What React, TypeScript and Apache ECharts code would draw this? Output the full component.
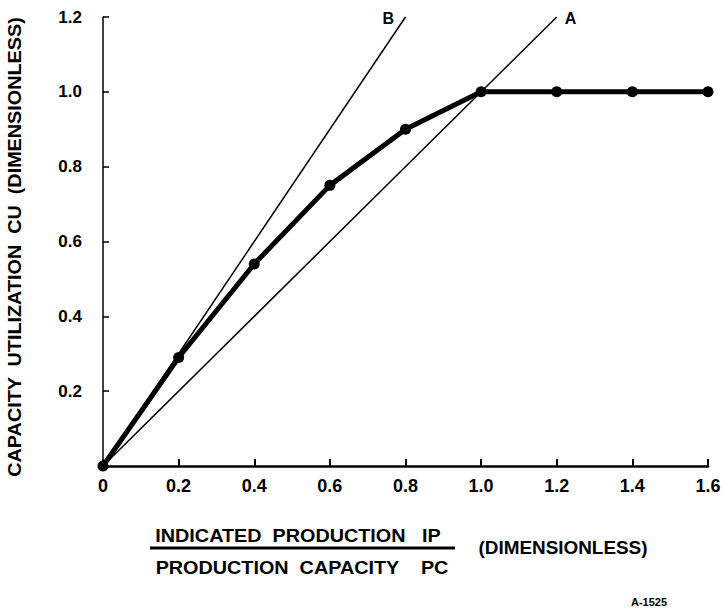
import React, { useEffect, useRef } from "react";
import * as echarts from "echarts";

const xValues = [0, 0.2, 0.4, 0.6, 0.8, 1.0, 1.2, 1.4, 1.6];
const cuValues = [0, 0.29, 0.54, 0.75, 0.9, 1.0, 1.0, 1.0, 1.0];
const lineA = [[0, 0], [1.2, 1.2]];
const lineB = [[0, 0], [0.8, 1.2]];
const yTitle = "CAPACITY  UTILIZATION  CU  (DIMENSIONLESS)";
const xTitleTop = "INDICATED  PRODUCTION   IP";
const xTitleBottom = "PRODUCTION  CAPACITY    PC";
const xTitleRight = "(DIMENSIONLESS)";
const figId = "A-1525";

const FONT = "'Liberation Sans', Arial, sans-serif";

export default function App() {
  const ref = useRef<HTMLDivElement>(null);
  useEffect(() => {
    document.body.style.margin = "0";
    const chart = echarts.init(ref.current!, null, { renderer: "svg" });
    chart.setOption({
      animation: false,
      backgroundColor: "#ffffff",
      grid: { left: 103, right: 16, top: 17, bottom: 147 },
      xAxis: {
        type: "value",
        min: 0,
        max: 1.6,
        interval: 0.2,
        splitLine: { show: false },
        axisLine: { lineStyle: { color: "#000", width: 2.5 } },
        axisTick: { inside: true, length: 7, lineStyle: { color: "#000", width: 2 } },
        axisLabel: {
          color: "#000",
          fontFamily: FONT,
          fontWeight: "bold",
          fontSize: 18,
          margin: 11,
          formatter: (v: number) => (v === 0 ? "0" : v.toFixed(1)),
        },
      },
      yAxis: {
        type: "value",
        min: 0,
        max: 1.2,
        interval: 0.2,
        splitLine: { show: false },
        axisLine: { lineStyle: { color: "#000", width: 1.5 } },
        axisTick: { inside: true, length: 6, lineStyle: { color: "#000", width: 1.5 } },
        axisLabel: {
          color: "#000",
          fontFamily: FONT,
          fontWeight: "bold",
          fontSize: 17,
          margin: 21,
          formatter: (v: number) => (v === 0 ? "" : v.toFixed(1)),
        },
      },
      series: [
        {
          type: "line",
          data: lineB,
          symbol: "none",
          lineStyle: { color: "#000", width: 1.5 },
          silent: true,
          endLabel: {
            show: true,
            formatter: "B",
            color: "#000",
            fontFamily: FONT,
            fontWeight: "bold",
            fontSize: 16,
            offset: [-31, 1],
          },
        },
        {
          type: "line",
          data: lineA,
          symbol: "none",
          lineStyle: { color: "#000", width: 1.5 },
          silent: true,
          endLabel: {
            show: true,
            formatter: "A",
            color: "#000",
            fontFamily: FONT,
            fontWeight: "bold",
            fontSize: 16,
            offset: [0, 1],
          },
        },
        {
          type: "line",
          data: xValues.map((x, i) => [x, cuValues[i]]),
          symbol: "circle",
          symbolSize: 11,
          itemStyle: { color: "#000" },
          lineStyle: { color: "#000", width: 5 },
        },
      ],
      graphic: [
        {
          type: "text",
          x: 15,
          y: 247,
          rotation: Math.PI / 2,
          scaleX: 1.1,
          style: {
            text: yTitle,
            fill: "#000",
            font: `bold 18px ${FONT}`,
            align: "center",
            verticalAlign: "middle",
          },
        },
        {
          type: "text",
          x: 298,
          y: 536,
          scaleX: 1.1,
          style: {
            text: xTitleTop,
            fill: "#000",
            font: `bold 18px ${FONT}`,
            align: "center",
            verticalAlign: "middle",
          },
        },
        {
          type: "line",
          shape: { x1: 150, y1: 548, x2: 455, y2: 548 },
          style: { stroke: "#000", lineWidth: 3 },
        },
        {
          type: "text",
          x: 302,
          y: 568,
          scaleX: 1.1,
          style: {
            text: xTitleBottom,
            fill: "#000",
            font: `bold 18px ${FONT}`,
            align: "center",
            verticalAlign: "middle",
          },
        },
        {
          type: "text",
          x: 563,
          y: 548,
          scaleX: 1.05,
          style: {
            text: xTitleRight,
            fill: "#000",
            font: `bold 18px ${FONT}`,
            align: "center",
            verticalAlign: "middle",
          },
        },
        {
          type: "text",
          x: 649,
          y: 602,
          style: {
            text: figId,
            fill: "#000",
            font: `bold 11px ${FONT}`,
            align: "center",
            verticalAlign: "middle",
          },
        },
      ],
    });
    return () => chart.dispose();
  }, []);
  return <div ref={ref} style={{ width: 724, height: 613 }} />;
}
